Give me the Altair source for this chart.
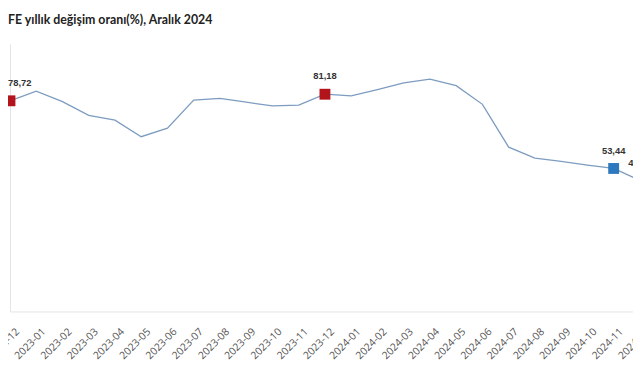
import altair as alt
import pandas as pd

months = ["2022-12", "2023-01", "2023-02", "2023-03", "2023-04", "2023-05", "2023-06",
          "2023-07", "2023-08", "2023-09", "2023-10", "2023-11", "2023-12",
          "2024-01", "2024-02", "2024-03", "2024-04", "2024-05", "2024-06",
          "2024-07", "2024-08", "2024-09", "2024-10", "2024-11", "2024-12"]
values = [78.72, 82.3, 78.4, 73.3, 71.5, 65.3, 68.5,
          79.0, 79.6, 78.2, 76.8, 77.1, 81.18,
          80.6, 82.9, 85.4, 86.8, 84.4, 77.4,
          61.4, 57.3, 56.1, 54.7, 53.44, 49.0]

marked_months = ["2022-12", "2023-12", "2024-11", "2024-12"]
marked_colors = ["#B3141C", "#B3141C", "#2E78BE", "#2E78BE"]

df = pd.DataFrame({"month": months, "value": values})
lookup = dict(zip(months, values))
pts = pd.DataFrame({
    "month": marked_months,
    "value": [lookup[m] for m in marked_months],
    "color": marked_colors,
    "label": [f"{lookup[m]:.2f}".replace(".", ",") for m in marked_months],
})

x = alt.X("month:O", sort=months,
          scale=alt.Scale(type="point", range=[0, 638], padding=0),
          axis=alt.Axis(title=None, labelAngle=-45, labelFont="Open Sans", labelFontSize=10.5,
                        labelColor="#555555", ticks=False, labelPadding=15, labelOffset=4,
                        domainColor="#e4e4e4", grid=False, labelOverlap=False))
y = alt.Y("value:Q", scale=alt.Scale(domain=[0, 100], nice=False, zero=True),
          axis=alt.Axis(title=None, labels=False, ticks=False, grid=False,
                        domainColor="#e4e4e4"))

line = alt.Chart(df).mark_line(color="#7C9CC0", strokeWidth=1.3).encode(x=x, y=y)
points = alt.Chart(pts).mark_square(size=121, opacity=1).encode(
    x=x, y=y, color=alt.Color("color:N", scale=None))
first_label = alt.Chart(pts.iloc[:1]).mark_text(
    dy=-18, dx=-2, align="left", font="Liberation Sans", fontWeight="bold",
    fontSize=9.5, color="#333333").encode(x=x, y=y, text="label:N")
other_labels = alt.Chart(pts.iloc[1:]).mark_text(
    dy=-18, font="Liberation Sans", fontWeight="bold",
    fontSize=9.5, color="#333333").encode(x=x, y=y, text="label:N")

chart = alt.layer(line, points, first_label, other_labels).properties(
    width=631, height=271,
    title=alt.TitleParams("FE yıllık değişim oranı(%), Aralık 2024", anchor="start",
                          frame="group", font="Lato", fontSize=12.5, fontWeight="bold",
                          color="#222222", offset=18, dx=-2),
    padding={"left": 2, "top": 34, "right": 0, "bottom": 60},
    autosize="none",
).configure_view(stroke=None)

chart.save("out.html", embed_options={"renderer": "svg", "actions": False})
